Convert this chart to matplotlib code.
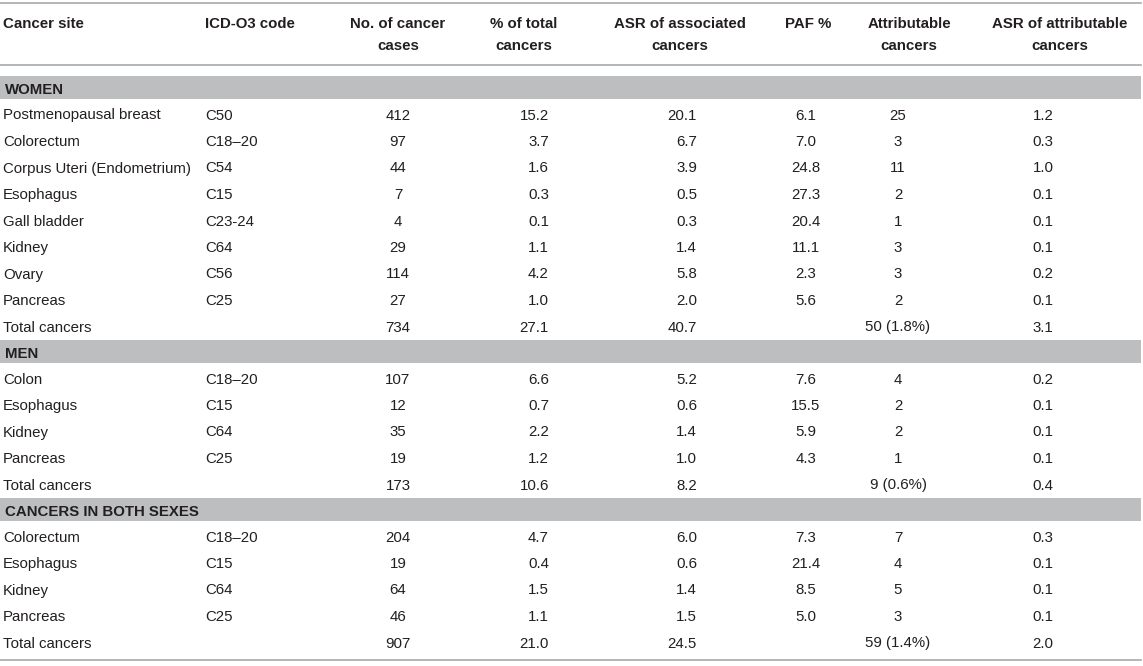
import matplotlib
matplotlib.use("Agg")
import matplotlib.pyplot as plt
from matplotlib.patches import Rectangle

plt.rcParams['font.family'] = ['Liberation Sans', 'DejaVu Sans']

headers = ["Cancer site", "ICD-O3 code", "No. of cancer\ncases", "% of total\ncancers",
           "ASR of associated\ncancers", "PAF %", "Attributable\ncancers",
           "ASR of attributable\ncancers"]

sections = ["WOMEN", "MEN", "CANCERS IN BOTH SEXES"]

women_sites = ["Postmenopausal breast", "Colorectum", "Corpus Uteri (Endometrium)", "Esophagus",
               "Gall bladder", "Kidney", "Ovary", "Pancreas", "Total cancers"]
women_codes = ["C50", "C18–20", "C54", "C15", "C23-24", "C64", "C56", "C25", ""]
women_cases = ["412", "97", "44", "7", "4", "29", "114", "27", "734"]
women_pct = ["15.2", "3.7", "1.6", "0.3", "0.1", "1.1", "4.2", "1.0", "27.1"]
women_asr = ["20.1", "6.7", "3.9", "0.5", "0.3", "1.4", "5.8", "2.0", "40.7"]
women_paf = ["6.1", "7.0", "24.8", "27.3", "20.4", "11.1", "2.3", "5.6", ""]
women_attr = ["25", "3", "11", "2", "1", "3", "3", "2", "50 (1.8%)"]
women_asr_attr = ["1.2", "0.3", "1.0", "0.1", "0.1", "0.1", "0.2", "0.1", "3.1"]

men_sites = ["Colon", "Esophagus", "Kidney", "Pancreas", "Total cancers"]
men_codes = ["C18–20", "C15", "C64", "C25", ""]
men_cases = ["107", "12", "35", "19", "173"]
men_pct = ["6.6", "0.7", "2.2", "1.2", "10.6"]
men_asr = ["5.2", "0.6", "1.4", "1.0", "8.2"]
men_paf = ["7.6", "15.5", "5.9", "4.3", ""]
men_attr = ["4", "2", "2", "1", "9 (0.6%)"]
men_asr_attr = ["0.2", "0.1", "0.1", "0.1", "0.4"]

both_sites = ["Colorectum", "Esophagus", "Kidney", "Pancreas", "Total cancers"]
both_codes = ["C18–20", "C15", "C64", "C25", ""]
both_cases = ["204", "19", "64", "46", "907"]
both_pct = ["4.7", "0.4", "1.5", "1.1", "21.0"]
both_asr = ["6.0", "0.6", "1.4", "1.5", "24.5"]
both_paf = ["7.3", "21.4", "8.5", "5.0", ""]
both_attr = ["7", "4", "5", "3", "59 (1.4%)"]
both_asr_attr = ["0.3", "0.1", "0.1", "0.1", "2.0"]

blocks = [
    [women_sites, women_codes, women_cases, women_pct, women_asr, women_paf, women_attr, women_asr_attr],
    [men_sites, men_codes, men_cases, men_pct, men_asr, men_paf, men_attr, men_asr_attr],
    [both_sites, both_codes, both_cases, both_pct, both_asr, both_paf, both_attr, both_asr_attr],
]

# column placement (pixels): header x/align, value x/align
head_pos = [(3, 'left'), (205, 'left'), (398, 'center'), (524, 'center'),
            (680, 'center'), (808, 'center'), (909, 'center'), (1060, 'center')]
val_pos = [(3, 'left'), (205, 'left'), (398, 'center'), (549, 'right'),
           (697, 'right'), (806, 'center'), (898, 'center'), (1043, 'center')]

W, H = 1143, 666
fig = plt.figure(figsize=(W / 100, H / 100), dpi=100)
ax = fig.add_axes([0, 0, 1, 1])
ax.set_xlim(0, W)
ax.set_ylim(H, 0)
ax.axis('off')

txt = '#231f20'
rule = '#a8a9ab'
band = '#bcbec0'
fs = 10.8
row_h = 26.5

ax.plot([0, 1141], [3, 3], color=rule, lw=1.2)
ax.plot([0, 1141], [65, 65], color=rule, lw=1.2)

for (x, ha), h in zip(head_pos, headers):
    for k, line in enumerate(h.split("\n")):
        ax.text(x, 27.5 + 22 * k, line, ha=ha, va='baseline', fontsize=fs,
                fontweight='bold', color=txt)

band_top = 76
for name, cols in zip(sections, blocks):
    ax.add_patch(Rectangle((0, band_top), 1141, 23, color=band, lw=0))
    ax.text(5, band_top + 17.5, name, ha='left', va='baseline', fontsize=fs,
            fontweight='bold', color=txt)
    y = band_top + 23 + 20.5
    for i in range(len(cols[0])):
        for (x, ha), col in zip(val_pos, cols):
            ax.text(x, y, col[i], ha=ha, va='baseline', fontsize=fs, color=txt)
        y += row_h
    band_top = y - row_h + 8.5

ax.plot([0, 1141], [660, 660], color=rule, lw=1.2)

fig.savefig("out.png", dpi=100)
